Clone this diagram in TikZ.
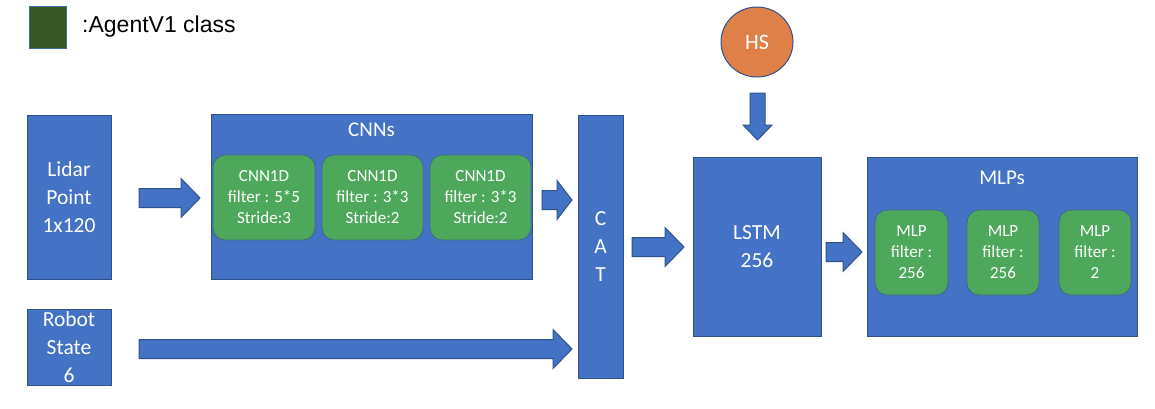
\documentclass[tikz,border=0pt]{standalone}
\usepackage{fontspec}
\setmainfont{Carlito}
\newfontfamily\arialf{Liberation Sans}
\usetikzlibrary{calc,shapes.geometric}
\definecolor{bfill}{HTML}{4472C4}
\definecolor{bline}{HTML}{2F528F}
\definecolor{gfill}{HTML}{4EA85C}
\definecolor{gline}{HTML}{3B6A86}
\definecolor{ofill}{HTML}{DF8049}
\definecolor{lgreen}{HTML}{375623}
\definecolor{lline}{HTML}{41719C}
\tikzset{
  bbox/.style={draw=bline,fill=bfill,line width=1pt,text=white,inner sep=0pt,align=center},
  gbox/.style={draw=gline,fill=gfill,line width=0.8pt,rounded corners=12pt,text=white,inner sep=0pt,align=center,font=\fontsize{17}{21}\selectfont},
  barrow/.style={draw=bline,fill=bfill,line width=1pt},
  big/.style={font=\fontsize{21.5}{28}\selectfont}
}
\newcommand{\harr}[4]{% x start, x tip, y, head start
  \filldraw[barrow] (#1,#3-9.5) -- (#4,#3-9.5) -- (#4,#3-19.5) -- (#2,#3) -- (#4,#3+19.5) -- (#4,#3+9.5) -- (#1,#3+9.5) -- cycle;}
\begin{document}
\begin{tikzpicture}[x=1pt,y=-1pt]
\useasboundingbox (0,0) rectangle (1155,408);
% legend
\node[draw=lline,fill=lgreen,line width=1pt,minimum width=37pt,minimum height=42pt,inner sep=0pt] (leg) at (47.5,27) {};
\node[anchor=west,inner sep=0pt,font=\arialf\fontsize{23}{27}\selectfont] (legt) at (82,27) {:AgentV1 class};
% inputs
\node[bbox,big,minimum width=84pt,minimum height=164pt] (lidar) at (69,197) {Lidar\\Point\\1x120};
\node[bbox,big,minimum width=84pt,minimum height=76pt] (robot) at (69,347) {Robot\\State\\6};
% CNNs
\node[bbox,minimum width=321pt,minimum height=165pt] (cnns) at (371.5,196.5) {};
\node[text=white,font=\fontsize{21}{25}\selectfont,inner sep=0pt] (cnnt) at (371.5,130) {CNNs};
\node[gbox,minimum width=102pt,minimum height=85pt] (c1) at (264,197.5) {CNN1D\\filter : 5*5\\Stride:3};
\node[gbox,minimum width=101pt,minimum height=85pt] (c2) at (372.5,197.5) {CNN1D\\filter : 3*3\\Stride:2};
\node[gbox,minimum width=101pt,minimum height=85pt] (c3) at (480.5,197.5) {CNN1D\\filter : 3*3\\Stride:2};
% CAT
\node[bbox,big,minimum width=45pt,minimum height=263pt] (cat) at (600.5,246.5) {C\\A\\T};
% HS
\node[ellipse,draw=bline,fill=ofill,line width=1pt,minimum width=72pt,minimum height=70pt,inner sep=0pt,text=white,font=\fontsize{22}{26}\selectfont] (hs) at (757,42) {HS};
% LSTM
\node[bbox,big,minimum width=128pt,minimum height=179pt] (lstm) at (757,246.5) {LSTM\\256};
% MLPs
\node[bbox,minimum width=270pt,minimum height=179pt] (mlps) at (1002,246.5) {};
\node[text=white,font=\fontsize{21}{25}\selectfont,inner sep=0pt] (mlpt) at (1002,178) {MLPs};
\node[gbox,minimum width=73pt,minimum height=85pt] (m1) at (911.5,252.5) {MLP\\filter :\\256};
\node[gbox,minimum width=72pt,minimum height=85pt] (m2) at (1003,252.5) {MLP\\filter :\\256};
\node[gbox,minimum width=72pt,minimum height=85pt] (m3) at (1095,252.5) {MLP\\filter :\\2};
% block arrows
\harr{139}{200}{198}{181}
\harr{139}{572}{349}{553}
\harr{542}{572}{200}{557}
\harr{632}{684}{247}{665}
\harr{826}{862}{252}{843}
\filldraw[barrow] (750,93) -- (765,93) -- (765,125) -- (772,125) -- (757.5,140) -- (743,125) -- (750,125) -- cycle;
\end{tikzpicture}
\end{document}
